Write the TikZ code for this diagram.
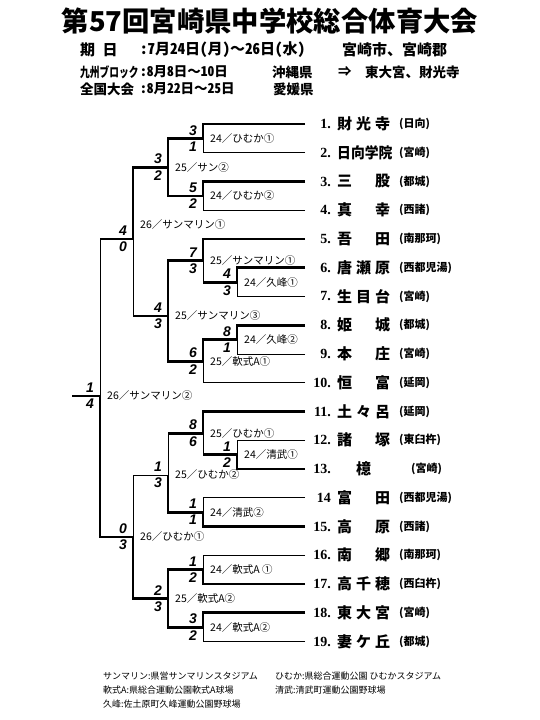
\documentclass[tikz,border=0pt]{standalone}
\usepackage{fontspec}
\usetikzlibrary{positioning}
\newfontfamily\cjk{Noto Sans CJK JP}
\newfontfamily\cjkhw{Noto Sans CJK JP}[RawFeature=+hwid]
\newfontfamily\scorefont{Liberation Sans}
\newfontfamily\numfont{Liberation Serif}
\newcommand{\slot}[1]{\makebox[19pt][l]{#1}}
\newcommand{\wave}{{\cjk ～}}
\tikzset{
	win/.style     ={line width=2.8pt},
	lose/.style    ={line width=0.9pt},
	score/.style   ={font=\scorefont\bfseries\itshape\fontsize{14}{14}\selectfont, inner sep=0pt},
	venue/.style   ={font=\cjk\fontsize{10.5}{11}\selectfont, inner sep=0pt, anchor=west},
	info/.style    ={font=\cjkhw\bfseries\fontsize{15}{16}\selectfont, inner sep=0pt, anchor=west},
	infos/.style   ={font=\cjkhw\bfseries\fontsize{13.5}{14}\selectfont, inner sep=0pt, anchor=west},
	teamno/.style  ={font=\numfont\bfseries\fontsize{14}{14}\selectfont, inner sep=0pt, anchor=east},
	teamname/.style={font=\cjk\bfseries\fontsize{15}{15}\selectfont, inner sep=0pt, anchor=west},
	teamaff/.style ={font=\cjk\bfseries\fontsize{11}{11}\selectfont, inner sep=0pt, anchor=west},
	foot/.style    ={font=\cjk\fontsize{9}{10}\selectfont, inner sep=0pt, anchor=west},
}
\begin{document}
\begin{tikzpicture}[x=1pt, y=-1pt]
\useasboundingbox (0,0) rectangle (540,720);
% heading
\node[inner sep=0pt] (title) at (270,21) {\resizebox{416pt}{!}{\cjk\bfseries 第57回宮崎県中学校総合体育大会}};
\node[info] (d1) at (80,50) {期　日};
\node[info] (d1v) at (140,50) {:7月24日(月)\wave 26日(水)};
\node[info] (d1p) at (342,50) {宮崎市、宮崎郡};
\node[infos] (d2) at (80,72) {\scalebox{0.72}[1]{九州ブロック}};
\node[infos] (d2v) at (140,72) {:8月8日\wave 10日};
\node[infos] (d2p) at (272,72) {沖縄県};
\node[infos] (d2a) at (338,72) {⇒};
\node[infos] (d2t) at (365,72) {東大宮、財光寺};
\node[infos] (d3) at (80,89) {全国大会};
\node[infos] (d3v) at (140,89) {:8月22日\wave 25日};
\node[infos] (d3p) at (273,89) {愛媛県};

% columns of the bracket
\coordinate (c0) at (100,0);
\coordinate (c1) at (133,0);
\coordinate (c2) at (168,0);
\coordinate (c3) at (203,0);
\coordinate (c4) at (237,0);

% teams
\foreach \i/\no/\nam/\aff in {
	1/1./{\slot{財}\slot{光}寺}/(日向),
	2/2./{\scalebox{0.92}[1]{日向学院}}/(宮崎),
	3/3./{\slot{三}\slot{}股}/(都城),
	4/4./{\slot{真}\slot{}幸}/(西諸),
	5/5./{\slot{吾}\slot{}田}/(南那珂),
	6/6./{\slot{唐}\slot{瀬}原}/(西都児湯),
	7/7./{\slot{生}\slot{目}台}/(宮崎),
	8/8./{\slot{姫}\slot{}城}/(都城),
	9/9./{\slot{本}\slot{}庄}/(宮崎),
	10/10./{\slot{恒}\slot{}富}/(延岡),
	11/11./{\slot{土}\slot{々}呂}/(延岡),
	12/12./{\slot{諸}\slot{}塚}/(東臼杵),
	13/13./{\slot{}\slot{檍}}/{\hspace*{12pt}(宮崎)},
	14/14/{\slot{富}\slot{}田}/(西都児湯),
	15/15./{\slot{高}\slot{}原}/(西諸),
	16/16./{\slot{南}\slot{}郷}/(南那珂),
	17/17./{\slot{高}\slot{千}穂}/(西臼杵),
	18/18./{\slot{東}\slot{大}宮}/(宮崎),
	19/19./{\slot{妻}\slot{ケ}丘}/(都城)} {
	\coordinate (t\i) at (305,{124+(\i-1)*28.75});
	\node[teamno] (no\i) at (331,{124+(\i-1)*28.75}) {\no};
	\node[teamname, right=6pt of no\i] (nm\i) {\nam};
	\node[teamaff] (af\i) at (399,{124+(\i-1)*28.75}) {\aff};
}

% match junctions
\coordinate (mA) at (203,138.4);
\coordinate (mB) at (203,195.9);
\coordinate (mC) at (168,167.1);
\coordinate (mD0) at (237,282.1);
\coordinate (mD) at (203,260.6);
\coordinate (mE0) at (237,339.6);
\coordinate (mE) at (203,361.2);
\coordinate (mF) at (168,316);
\coordinate (mG) at (133,239);
\coordinate (mH0) at (237,454.6);
\coordinate (mH) at (203,433.1);
\coordinate (mI) at (203,512.1);
\coordinate (mJ) at (168,475);
\coordinate (mK) at (203,569.6);
\coordinate (mL) at (203,627.1);
\coordinate (mM) at (168,598.4);
\coordinate (mN) at (133,537);
\coordinate (fin) at (100,396);
\coordinate (champ) at (72,396);

% losers
\draw[lose] (t2) -| (mA);
\draw[lose] (t4) -| (mB);
\draw[lose] (t7) -| (mD0);
\draw[lose] (mD0 -| c3) -- (mD);
\draw[lose] (t9) -| (mE0);
\draw[lose] (t10) -| (mE);
\draw[lose] (mF -| c1) -- (mG);
\draw[lose] (mG -| c0) -- (fin);
\draw[lose] (t12) -| (mH0);
\draw[lose] (mH0 -| c3) -- (mH);
\draw[lose] (mH -| c2) -- (mJ);
\draw[lose] (t14) -| (mI);
\draw[lose] (mJ) -- (mJ -| c1) -- (mN);
\draw[lose] (t16) -| (mK);
\draw[lose] (t19) -| (mL);

% winners
\draw[win] (t1) -| (mA) -| (mC) -| (mG) -- (mG -| c0);
\draw[win] (t3) -| (mB) -| (mC);
\draw[win] (t5) -| (mD) -| (mF) -- (mF -| c1);
\draw[win] (t6) -| (mD0) -- (mD0 -| c3);
\draw[win] (t8) -| (mE0) -| (mE) -| (mF);
\draw[win] (t11) -| (mH) -- (mH -| c2);
\draw[win] (t13) -| (mH0) -- (mH0 -| c3);
\draw[win] (t15) -| (mI) -| (mJ);
\draw[win] (t17) -| (mK) -| (mM);
\draw[win] (t18) -| (mL) -| (mM) -| (mN) -| (fin) -- (champ);

% scores
\foreach \m/\a/\b in {mA/3/1, mB/5/2, mC/3/2, mD0/4/3, mD/7/3, mE0/8/1, mE/6/2,
	mF/4/3, mG/4/0, mH0/1/2, mH/8/6, mI/1/1, mJ/1/3, mK/1/2, mL/3/2, mM/2/3,
	mN/0/3, fin/1/4} {
	\node[score, above left=3pt and 6pt of \m] {\a};
	\node[score, below left=3pt and 6pt of \m] {\b};
}

% venues
\node[venue, right=7pt of mA] {24／ひむか①};
\node[venue, right=7pt of mB] {24／ひむか②};
\node[venue, right=7pt of mC] {25／サン②};
\node[venue, right=7pt of mD0] {24／久峰①};
\node[venue, right=7pt of mD] {25／サンマリン①};
\node[venue, right=7pt of mE0] {24／久峰②};
\node[venue, right=7pt of mE] {25／軟式A①};
\node[venue, right=7pt of mF] {25／サンマリン③};
\node[venue, above right=9pt and 7pt of mG] {26／サンマリン①};
\node[venue, right=7pt of mH0] {24／清武①};
\node[venue, right=7pt of mH] {25／ひむか①};
\node[venue, right=7pt of mI] {24／清武②};
\node[venue, right=7pt of mJ] {25／ひむか②};
\node[venue, right=7pt of mK] {24／軟式A ①};
\node[venue, right=7pt of mL] {24／軟式A②};
\node[venue, right=7pt of mM] {25／軟式A②};
\node[venue, right=7pt of mN] {26／ひむか①};
\node[venue, right=7pt of fin] {26／サンマリン②};

% key to the grounds
\node[foot] (f1) at (103,676) {サンマリン:県営サンマリンスタジアム};
\node[foot] (f2) at (275,676) {ひむか:県総合運動公園 ひむかスタジアム};
\node[foot] (f3) at (103,690) {軟式A:県総合運動公園軟式A球場};
\node[foot] (f4) at (275,690) {清武:清武町運動公園野球場};
\node[foot] (f5) at (103,704) {久峰:佐土原町久峰運動公園野球場};
\end{tikzpicture}
\end{document}
